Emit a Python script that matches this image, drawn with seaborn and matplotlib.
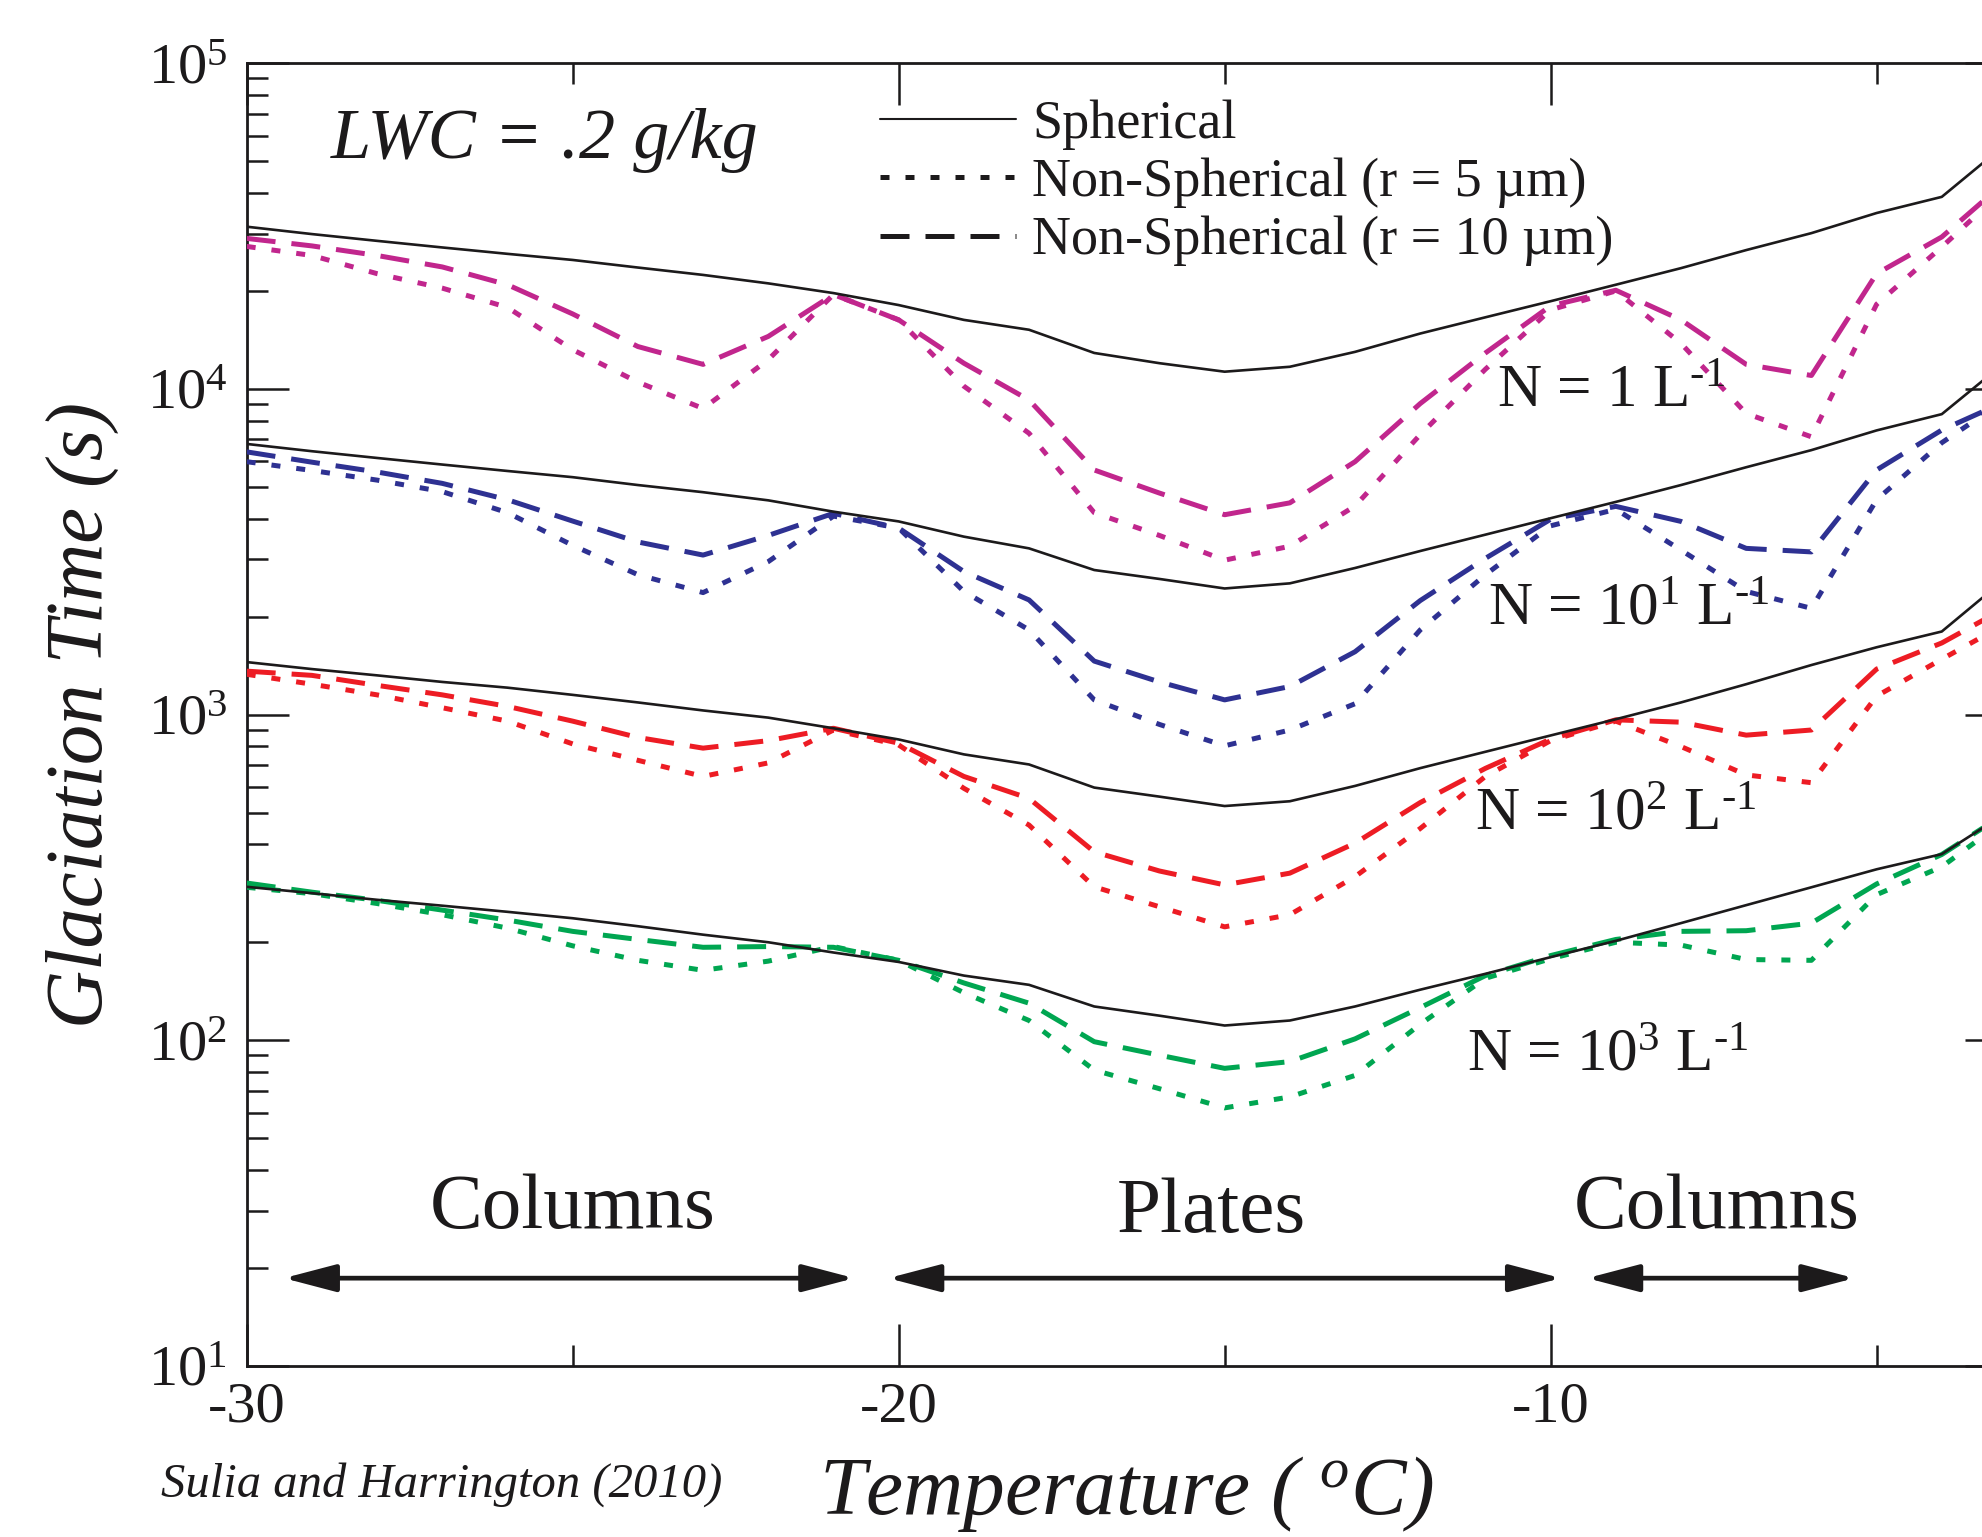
import numpy as np
import pandas as pd
import matplotlib
matplotlib.use("Agg")
import matplotlib.pyplot as plt
import seaborn as sns
from matplotlib.lines import Line2D
from matplotlib.ticker import (LogLocator, LogFormatterMathtext, FixedLocator,
                               FixedFormatter, NullFormatter)

# ---------------- data ----------------
temperature = list(range(-30, -2))  # -30 ... -3 degC

# N = 1 L^-1
sph_N1 = [31500, 29900, 28500, 27200, 26000, 24900, 23600, 22400, 21100, 19700,
          18100, 16300, 15200, 12900, 12000, 11300, 11700, 13000, 14800, 16600,
          18600, 20900, 23500, 26700, 30100, 34700, 38900, 56900]
r10_N1 = [29000, 27500, 25700, 23700, 20900, 17000, 13500, 11900, 14500, 19500,
          16300, 12000, 9250, 5640, 4790, 4110, 4470, 5980, 9020, 12900,
          18000, 20100, 16300, 11900, 11000, 22600, 29300, 43700]
r5_N1 = [27400, 25700, 22600, 20400, 17800, 13200, 10500, 8710, 12300, 19500,
         16300, 10200, 7310, 4170, 3550, 2980, 3290, 4370, 7240, 11500,
         17500, 20000, 13800, 8410, 7130, 18200, 27300, 41700]

# N = 10 L^-1
sph_N10 = [6780, 6440, 6140, 5860, 5600, 5360, 5070, 4820, 4550, 4200,
           3920, 3520, 3240, 2780, 2610, 2440, 2530, 2820, 3180, 3570,
           4010, 4500, 5070, 5750, 6490, 7460, 8370, 12200]
r10_N10 = [6410, 5960, 5560, 5130, 4570, 3930, 3390, 3090, 3550, 4150,
           3740, 2750, 2250, 1460, 1260, 1110, 1220, 1560, 2240, 3020,
           3980, 4360, 3920, 3240, 3160, 5640, 7480, 9200]
r5_N10 = [5980, 5620, 5250, 4840, 4170, 3310, 2690, 2370, 2950, 4070,
          3740, 2390, 1820, 1110, 933, 802, 897, 1080, 1820, 2690,
          3800, 4270, 3200, 2390, 2120, 4570, 6840, 9330]

# N = 100 L^-1
sph_N100 = [1450, 1380, 1320, 1260, 1210, 1150, 1090, 1030, 979, 908,
            839, 755, 703, 597, 560, 524, 542, 604, 685, 769,
            863, 968, 1090, 1240, 1420, 1610, 1800, 2640]
r10_N100 = [1360, 1320, 1230, 1150, 1060, 955, 851, 789, 832, 908,
            817, 646, 553, 379, 331, 300, 326, 403, 537, 684,
            841, 964, 948, 865, 897, 1380, 1660, 2140]
r5_N100 = [1330, 1240, 1150, 1050, 955, 813, 724, 646, 711, 897,
           807, 594, 458, 296, 257, 223, 243, 318, 447, 646,
           832, 955, 798, 653, 618, 1140, 1480, 1910]

# N = 1000 L^-1
sph_N1000 = [296, 283, 270, 259, 248, 237, 224, 211, 200, 186,
             174, 158, 148, 127, 119, 111, 115, 127, 143, 160,
             180, 202, 229, 260, 295, 335, 373, 501]
r10_N1000 = [304, 285, 269, 251, 234, 216, 204, 193, 194, 193,
             176, 150, 130, 99, 90, 82, 86, 101, 126, 158,
             182, 204, 216, 217, 229, 302, 372, 501]
r5_N1000 = [295, 282, 263, 243, 221, 195, 176, 164, 175, 194,
            176, 140, 115, 81, 71, 62, 67, 78, 112, 155,
            178, 200, 196, 177, 176, 280, 341, 479]

concentration_colors = ["#C1268D", "#2E3192", "#ED1C24", "#00A651"]
legend_labels = ["Spherical", "Non-Spherical (r = 5 µm)", "Non-Spherical (r = 10 µm)"]

n_labels = ["N = 1 L$^{\u20101}$", "N = 10$^{1}$ L$^{\u20101}$",
            "N = 10$^{2}$ L$^{\u20101}$", "N = 10$^{3}$ L$^{\u20101}$"]
n_label_T = [-10.82, -10.96, -11.16, -11.28]
n_label_t = [8810, 1890, 443, 81]

habit_names = ["Columns", "Plates", "Columns"]
habit_center_T = [-25.0, -15.2, -7.45]
habit_label_t = [26.6, 25.8, 26.6]
habit_start_T = [-29.43, -20.16, -9.44]
habit_end_T = [-20.68, -9.84, -5.34]
habit_arrow_t = 18.6

x_ticks = [-30, -20, -10]
x_ticklabels = ["-30", "-20", "-10"]
x_minor = [-25, -15, -5]

# ---------------- long table ----------------
rows = []
sets = [(sph_N1, r5_N1, r10_N1), (sph_N10, r5_N10, r10_N10),
        (sph_N100, r5_N100, r10_N100), (sph_N1000, r5_N1000, r10_N1000)]
for gi, (s, a, b) in enumerate(sets):
    for kind, vals in (("sph", s), ("r5", a), ("r10", b)):
        for T, v in zip(temperature, vals):
            rows.append({"group": gi, "kind": kind, "T": T, "t": v})
df = pd.DataFrame(rows)

# ---------------- style ----------------
sns.set_style("ticks")
plt.rcParams["font.family"] = ["Liberation Serif", "DejaVu Serif"]
plt.rcParams["mathtext.fontset"] = "custom"
plt.rcParams["mathtext.rm"] = "Liberation Serif"
plt.rcParams["mathtext.it"] = "Liberation Serif:italic"
plt.rcParams["mathtext.default"] = "regular"
plt.rcParams["axes.unicode_minus"] = False

fig = plt.figure(figsize=(19.83, 15.37), dpi=100)
ax = fig.add_axes([0.1244, 0.1113, 0.8877, 0.8475])

DOT = (0, (1.8, 3.2))
DASH = (0, (5.8, 3.2))
BLACK = "#1c1a1b"

for gi, col in enumerate(concentration_colors):
    sub = df[df.group == gi]
    d5 = sub[sub.kind == "r5"]
    d10 = sub[sub.kind == "r10"]
    sp = sub[sub.kind == "sph"]
    sns.lineplot(data=d5, x="T", y="t", ax=ax, color=col, lw=3.6,
                 linestyle=DOT, dash_capstyle="butt", errorbar=None,
                 legend=False, zorder=3)
    sns.lineplot(data=d10, x="T", y="t", ax=ax, color=col, lw=3.6,
                 linestyle=DASH, dash_capstyle="butt", errorbar=None,
                 legend=False, zorder=3)
    sns.lineplot(data=sp, x="T", y="t", ax=ax, color=BLACK, lw=1.9,
                 errorbar=None, legend=False, zorder=4)

ax.set_yscale("log")
ax.set_xlim(-30, -3)
ax.set_ylim(10, 1e5)

ax.xaxis.set_major_locator(FixedLocator(x_ticks))
ax.xaxis.set_major_formatter(FixedFormatter(x_ticklabels))
ax.xaxis.set_minor_locator(FixedLocator(x_minor))
ax.yaxis.set_major_locator(LogLocator(base=10, numticks=10))
ax.yaxis.set_major_formatter(LogFormatterMathtext())
ax.yaxis.set_minor_locator(LogLocator(base=10, subs=np.arange(2, 10), numticks=20))
ax.yaxis.set_minor_formatter(NullFormatter())

ax.tick_params(which="both", direction="in", top=True, right=True,
               width=1.8, color=BLACK, labelcolor=BLACK)
ax.tick_params(which="major", length=30, labelsize=42)
ax.tick_params(which="minor", length=15)
ax.tick_params(axis="x", which="major", pad=11)
ax.tick_params(axis="y", which="major", pad=14)
for sp_ in ax.spines.values():
    sp_.set_linewidth(2.0)
    sp_.set_color(BLACK)
    sp_.set_visible(True)

ax.set_xlabel(r"Temperature ( $^{\mathit{o}}$C)", fontsize=60, style="italic",
              labelpad=15, color=BLACK)
ax.set_ylabel("Glaciation Time (s)", fontsize=58, style="italic",
              labelpad=20, color=BLACK)

# annotations
ax.text(0.048, 0.927, "LWC = .2 g/kg", transform=ax.transAxes, fontsize=52,
        style="italic", ha="left", va="baseline", color=BLACK)

for lab, T, t in zip(n_labels, n_label_T, n_label_t):
    ax.text(T, t, lab, fontsize=44, ha="left", va="baseline", color=BLACK, zorder=5)

for name, cT, lt, a, b in zip(habit_names, habit_center_T, habit_label_t,
                              habit_start_T, habit_end_T):
    ax.text(cT, lt, name, fontsize=57, ha="center", va="baseline", color=BLACK)
    ax.annotate("", xy=(b, habit_arrow_t), xytext=(a, habit_arrow_t),
                arrowprops=dict(arrowstyle="<|-|>,head_length=1.6,head_width=0.42",
                                mutation_scale=20, lw=3.4, color=BLACK,
                                shrinkA=0, shrinkB=0))

handles = [Line2D([], [], color=BLACK, lw=1.5),
           Line2D([], [], color=BLACK, lw=3.6, linestyle=DOT, dash_capstyle="butt"),
           Line2D([], [], color=BLACK, lw=3.6, linestyle=DASH, dash_capstyle="butt")]
leg = ax.legend(handles, legend_labels, loc="upper left",
                bbox_to_anchor=(0.36, 0.972), frameon=False, fontsize=39,
                handlelength=2.5, handletextpad=0.3, labelspacing=0.14,
                borderpad=0, borderaxespad=0)
for t in leg.get_texts():
    t.set_color(BLACK)

fig.text(0.0811, 0.0265, "Sulia and Harrington (2010)", fontsize=35,
         style="italic", ha="left", va="baseline", color=BLACK)

fig.savefig("out.png", dpi=100)
